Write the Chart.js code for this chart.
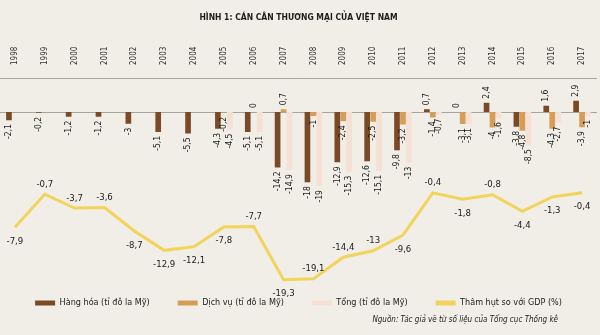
<!DOCTYPE html>
<html>
<head>
<meta charset="utf-8">
<script src="https://cdn.jsdelivr.net/npm/chart.js@4.4.0/dist/chart.umd.min.js"></script>
<style>
  html, body { margin: 0; padding: 0; background: #f0eee6; }
  #khung { width: 600px; height: 335px; }
</style>
</head>
<body>
<div id="khung"><canvas id="bieuDo" width="600" height="335"></canvas></div>
<script>
'use strict';

// Số liệu
const NAM = ['1998', '1999', '2000', '2001', '2002', '2003', '2004', '2005', '2006', '2007',
             '2008', '2009', '2010', '2011', '2012', '2013', '2014', '2015', '2016', '2017'];
const HANG_HOA = [-2.1, -0.2, -1.2, -1.2, -3, -5.1, -5.5, -4.3, -5.1, -14.2,
                  -18, -12.9, -12.6, -9.8, 0.7, 0, 2.4, -3.8, 1.6, 2.9];
const DICH_VU  = [null, null, null, null, null, null, null, -0.2, 0, 0.7,
                  -1, -2.4, -2.5, -3.2, -1.4, -3.1, -4, -4.8, -4.3, -3.9];
const TONG     = [null, null, null, null, null, null, null, -4.5, -5.1, -14.9,
                  -19, -15.3, -15.1, -13, -0.7, -3.1, -1.6, -8.5, -2.7, -1];
const THAM_HUT = [-7.9, -0.7, -3.7, -3.6, -8.7, -12.9, -12.1, -7.8, -7.7, -19.3,
                  -19.1, -14.4, -13, -9.6, -0.4, -1.8, -0.8, -4.4, -1.3, -0.4];
// vị trí nhãn đường: 'u' trên, 'd' dưới
const NHAN_DUONG = ['d', 'u', 'u', 'u', 'd', 'd', 'd', 'd', 'u', 'd',
                    'u', 'u', 'u', 'd', 'u', 'd', 'u', 'd', 'd', 'd'];

const FONT = "'Liberation Sans Narrow', 'DejaVu Sans Condensed', 'Arial Narrow', sans-serif";
const NAU = '#7a4a26';
const CAM = '#d49e58';
const HONG = '#f6dfd4';
const VANG = '#f2d35b';
const CHU = '#1c1c1c';

const soVN = (v) => String(v).replace('.', ',');

const ghiChu = {
  id: 'ghiChu',
  beforeDatasetsDraw(chart) {
    const { ctx, chartArea, scales } = chart;
    const y0 = scales.y.getPixelForValue(0);
    ctx.save();
    ctx.strokeStyle = '#a6a49c';
    ctx.lineWidth = 1;
    [chartArea.top, y0].forEach(y => {
      const yy = Math.round(y) + 0.5;
      ctx.beginPath();
      ctx.moveTo(0, yy);
      ctx.lineTo(chart.width - 3, yy);
      ctx.stroke();
    });

    // nhãn năm, xoay dọc phía trên
    ctx.fillStyle = '#333';
    ctx.font = '8px ' + FONT;
    ctx.textBaseline = 'middle';
    ctx.textAlign = 'left';
    NAM.forEach((nam, i) => {
      ctx.save();
      ctx.translate(scales.x.getPixelForValue(i), chartArea.top - 13);
      ctx.rotate(-Math.PI / 2);
      ctx.fillText(nam, 0, 0);
      ctx.restore();
    });
    ctx.restore();
  },
  afterDatasetsDraw(chart) {
    const ctx = chart.ctx;
    ctx.save();
    ctx.fillStyle = CHU;
    ctx.textBaseline = 'middle';

    // nhãn cột, xoay dọc
    ctx.font = '8.5px ' + FONT;
    [0, 1, 2].forEach(di => {
      const meta = chart.getDatasetMeta(di);
      const data = chart.data.datasets[di].data;
      meta.data.forEach((cot, i) => {
        const v = data[i];
        if (v === null || v === undefined) return;
        const am = v < 0;
        ctx.save();
        ctx.translate(cot.x, am ? cot.y + 4 : cot.y - 4);
        ctx.rotate(-Math.PI / 2);
        ctx.textAlign = am ? 'right' : 'left';
        ctx.fillText(soVN(v), 0, 0);
        ctx.restore();
      });
    });

    // nhãn đường thâm hụt
    ctx.font = '9.5px ' + FONT;
    ctx.textAlign = 'center';
    chart.getDatasetMeta(3).data.forEach((d, i) => {
      const dy = NHAN_DUONG[i] === 'u' ? -10 : 14;
      ctx.fillText(soVN(THAM_HUT[i]), d.x, d.y + dy);
    });

    // nguồn
    ctx.font = 'italic 8px ' + FONT;
    ctx.textAlign = 'right';
    ctx.fillText('Nguồn: Tác giả vẽ từ số liệu của Tổng cục Thống kê', 558, 320);
    ctx.restore();
  }
};

new Chart(document.getElementById('bieuDo'), {
  data: {
    labels: NAM,
    datasets: [
      { type: 'bar', label: 'Hàng hóa (tỉ đô la Mỹ)', data: HANG_HOA, backgroundColor: NAU,
        yAxisID: 'y', categoryPercentage: 0.6, barPercentage: 0.95 },
      { type: 'bar', label: 'Dịch vụ (tỉ đô la Mỹ)', data: DICH_VU, backgroundColor: CAM,
        yAxisID: 'y', categoryPercentage: 0.6, barPercentage: 0.95 },
      { type: 'bar', label: 'Tổng (tỉ đô la Mỹ)', data: TONG, backgroundColor: HONG,
        yAxisID: 'y', categoryPercentage: 0.6, barPercentage: 0.95 },
      { type: 'line', label: 'Thâm hụt so với GDP (%)', data: THAM_HUT, borderColor: VANG,
        backgroundColor: VANG, borderWidth: 3, pointRadius: 0, tension: 0, yAxisID: 'y2', clip: false },
    ],
  },
  options: {
    responsive: false, animation: false,
    layout: { padding: { left: 0, right: 3, top: 0, bottom: 17.5 } },
    scales: {
      x: { display: false, offset: true },
      y:  { display: false, min: -40.64, max: 8.72 },
      y2: { display: false, min: -17.28, max: 24.57 },
    },
    plugins: {
      title: {
        display: true, text: 'HÌNH 1: CÁN CÂN THƯƠNG MẠI CỦA VIỆT NAM', color: CHU,
        font: { family: FONT, size: 8.5, weight: 'bold' }, padding: { top: 13, bottom: 54.8 },
      },
      legend: {
        position: 'bottom',
        labels: {
          boxWidth: 20, boxHeight: 5, padding: 28, color: CHU,
          font: { family: FONT, size: 9 },
          generateLabels: (c) => Chart.defaults.plugins.legend.labels.generateLabels(c)
            .map(it => ({ ...it, lineWidth: 0 })),
        },
      },
      tooltip: { enabled: false },
    },
  },
  plugins: [ghiChu],
});
</script>
</body>
</html>
